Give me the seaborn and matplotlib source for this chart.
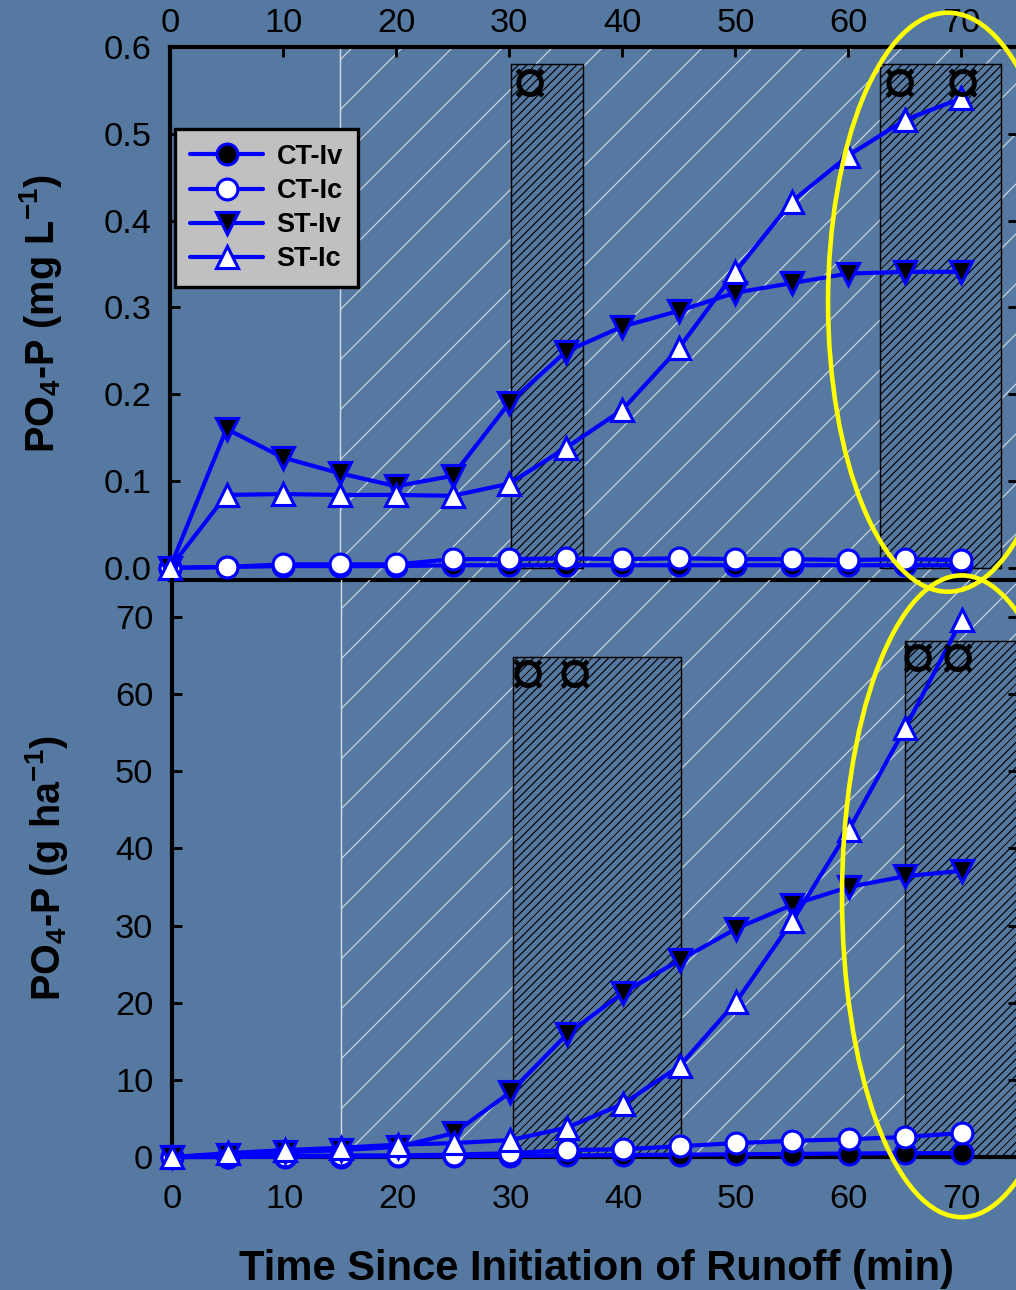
import matplotlib
matplotlib.use("Agg")
import matplotlib.pyplot as plt
import seaborn as sns
import pandas as pd
from matplotlib.patches import Rectangle, Ellipse
from matplotlib.lines import Line2D

# ---------------- data ----------------
time = [0, 5, 10, 15, 20, 25, 30, 35, 40, 45, 50, 55, 60, 65, 70]

conc_ct_iv = [0.0, 0.001, 0.002, 0.002, 0.002, 0.003, 0.003, 0.003, 0.003, 0.003, 0.003, 0.003, 0.003, 0.003, 0.003]
conc_ct_ic = [0.0, 0.001, 0.004, 0.004, 0.004, 0.010, 0.010, 0.011, 0.010, 0.011, 0.010, 0.010, 0.009, 0.010, 0.009]
conc_st_iv = [0.0, 0.160, 0.127, 0.109, 0.094, 0.106, 0.190, 0.249, 0.278, 0.296, 0.317, 0.328, 0.339, 0.341, 0.341]
conc_st_ic = [0.0, 0.084, 0.085, 0.084, 0.084, 0.083, 0.097, 0.138, 0.182, 0.253, 0.341, 0.422, 0.475, 0.516, 0.541]

load_ct_iv = [0.0, 0.0, 0.05, 0.05, 0.1, 0.1, 0.15, 0.2, 0.25, 0.3, 0.35, 0.4, 0.45, 0.5, 0.5]
load_ct_ic = [0.0, 0.0, 0.1, 0.2, 0.2, 0.3, 0.5, 0.9, 1.0, 1.4, 1.8, 2.1, 2.3, 2.6, 3.1]
load_st_iv = [0.0, 0.3, 0.6, 0.9, 1.3, 3.1, 8.4, 15.9, 21.3, 25.5, 29.6, 32.7, 35.0, 36.4, 37.1]
load_st_ic = [0.0, 0.5, 0.9, 1.2, 1.6, 1.8, 2.2, 3.8, 6.9, 11.8, 20.1, 30.6, 42.4, 55.6, 69.6]

series_names = ["CT-Iv", "CT-Ic", "ST-Iv", "ST-Ic"]

# shaded periods
light_span = (15, 75)
conc_box_start = [30.2, 62.8]
conc_box_end = [36.5, 73.5]
conc_box_top = [0.58, 0.58]
load_box_start = [30.2, 65.0]
load_box_end = [45.1, 76.0]
load_box_top = [64.8, 66.9]

# significance symbols
conc_sig_x = [31.8, 64.5, 70.1]
conc_sig_y = [0.553, 0.553, 0.553]
load_sig_x = [31.5, 35.7, 66.1, 69.6]
load_sig_y = [61.9, 61.9, 64.0, 64.0]

conc_yticks = [0.0, 0.1, 0.2, 0.3, 0.4, 0.5, 0.6]
load_yticks = [0, 10, 20, 30, 40, 50, 60, 70]
xticks = [0, 10, 20, 30, 40, 50, 60, 70]

# ---------------- style ----------------
sns.set_style("ticks")
plt.rcParams["font.family"] = ["Liberation Sans", "DejaVu Sans"]
plt.rcParams["mathtext.fontset"] = "custom"
plt.rcParams["mathtext.rm"] = "Liberation Sans"
plt.rcParams["mathtext.bf"] = "Liberation Sans:bold"
plt.rcParams["hatch.linewidth"] = 0.55
for k in ["text.color", "axes.labelcolor", "xtick.color", "ytick.color", "axes.edgecolor"]:
    plt.rcParams[k] = "black"

BG = "#5679a2"
BLUE = "#0000ff"
LIGHT = "#d2d8e0"
W, H, DPI = 1016, 1290, 150

fig = plt.figure(figsize=(W / DPI, H / DPI), dpi=DPI, facecolor=BG)
ax1 = fig.add_axes([170 / W, 1 - 580 / H, 848 / W, 533 / H])
ax2 = fig.add_axes([172 / W, 1 - 1157 / H, 846 / W, 577 / H])

styles = {
    "CT-Iv": dict(marker="o", markerfacecolor="black", markersize=10),
    "CT-Ic": dict(marker="o", markerfacecolor="white", markersize=10),
    "ST-Iv": dict(marker="v", markerfacecolor="black", markersize=11),
    "ST-Ic": dict(marker="^", markerfacecolor="white", markersize=11),
}

df_conc = pd.DataFrame({"time": time * 4,
                        "value": conc_ct_iv + conc_ct_ic + conc_st_iv + conc_st_ic,
                        "series": sum([[s] * len(time) for s in series_names], [])})
df_load = pd.DataFrame({"time": time * 4,
                        "value": load_ct_iv + load_ct_ic + load_st_iv + load_st_ic,
                        "series": sum([[s] * len(time) for s in series_names], [])})


def draw_panel(ax, df, box_start, box_end, box_top, sig_x, sig_y):
    ax.set_facecolor("none")
    ax.axvspan(light_span[0], light_span[1], facecolor="none", edgecolor=LIGHT,
               hatch="/", linewidth=0, zorder=0.5)
    ax.axvline(light_span[0], color=LIGHT, linewidth=0.7, zorder=0.5)
    for s, e, t in zip(box_start, box_end, box_top):
        ax.add_patch(Rectangle((s, 0), e - s, t, facecolor="none", edgecolor="black",
                               hatch="//////", linewidth=0.7, zorder=0.8))
    for name in series_names:
        sub = df[df["series"] == name]
        sns.lineplot(data=sub, x="time", y="value", ax=ax, color=BLUE, linewidth=2.0,
                     markeredgecolor=BLUE, markeredgewidth=1.5, legend=False,
                     **styles[name])
    for ln in ax.lines:
        if ln.get_marker() not in (None, "None", ""):
            ln.set_clip_on(False)
            ln.set_zorder(3)
    for x, y in zip(sig_x, sig_y):
        ax.text(x, y, "¤", ha="center", va="center", fontsize=31, fontweight="normal",
                color="black", zorder=4)
    ax.set_xlim(0, 75)
    ax.set_xticks(xticks)
    ax.set_xlabel("")
    ax.set_ylabel("")
    for sp in ax.spines.values():
        sp.set_linewidth(2)
        sp.set_color("black")
    ax.tick_params(axis="both", direction="in", length=4.8, width=1.4,
                   labelsize=16.5, colors="black")


draw_panel(ax1, df_conc, conc_box_start, conc_box_end, conc_box_top, conc_sig_x, conc_sig_y)
draw_panel(ax2, df_load, load_box_start, load_box_end, load_box_top, load_sig_x, load_sig_y)

# top panel
ax1.set_ylim(-0.014, 0.6)
ax1.set_yticks(conc_yticks)
ax1.set_yticklabels([f"{v:.1f}" for v in conc_yticks])
ax1.tick_params(axis="x", top=True, bottom=False, labeltop=True, labelbottom=False, pad=4)
ax1.tick_params(axis="y", left=True, right=True, pad=9.0)
ax1.set_ylabel(r"PO$_{\mathbf{4}}$-P (mg L$^{\mathbf{-1}}$)", fontsize=19, fontweight="bold")
ax1.yaxis.set_label_coords(-0.125, 0.5)

# bottom panel
ax2.set_ylim(0, 74.8)
ax2.set_yticks(load_yticks)
ax2.spines["top"].set_visible(False)
ax2.tick_params(axis="x", top=False, bottom=False, pad=13)
ax2.tick_params(axis="y", left=True, right=True, pad=9.0)
ax2.set_ylabel(r"PO$_{\mathbf{4}}$-P (g ha$^{\mathbf{-1}}$)", fontsize=19, fontweight="bold")
ax2.yaxis.set_label_coords(-0.121, 0.5)
ax2.set_xlabel("Time Since Initiation of Runoff (min)", fontsize=20, fontweight="bold")
ax2.xaxis.set_label_coords(0.502, -0.16)

# legend
handles = [Line2D([0], [0], color=BLUE, linewidth=2.0, markeredgecolor=BLUE,
                  markeredgewidth=1.5, **styles[n]) for n in series_names]
leg = ax1.legend(handles, series_names, loc="upper left", bbox_to_anchor=(0.006, 0.846),
                 borderaxespad=0, frameon=True, fancybox=False, framealpha=1,
                 facecolor="#c0c0c0", edgecolor="black", handlelength=2.7,
                 labelspacing=0.3, handletextpad=0.5, borderpad=0.55,
                 prop={"weight": "bold", "size": 13})
leg.get_frame().set_linewidth(1.6)
leg.set_zorder(6)

# highlight ellipses
fig.add_artist(Ellipse((68.8, 0.306), 21.2, 0.667, transform=ax1.transData,
                       facecolor="none", edgecolor="#ffff00", linewidth=2.2, zorder=5))
fig.add_artist(Ellipse((70.0, 33.8), 21.2, 83.2, transform=ax2.transData,
                       facecolor="none", edgecolor="#ffff00", linewidth=2.2, zorder=5))

fig.savefig("out.png", dpi=DPI, facecolor=BG)
